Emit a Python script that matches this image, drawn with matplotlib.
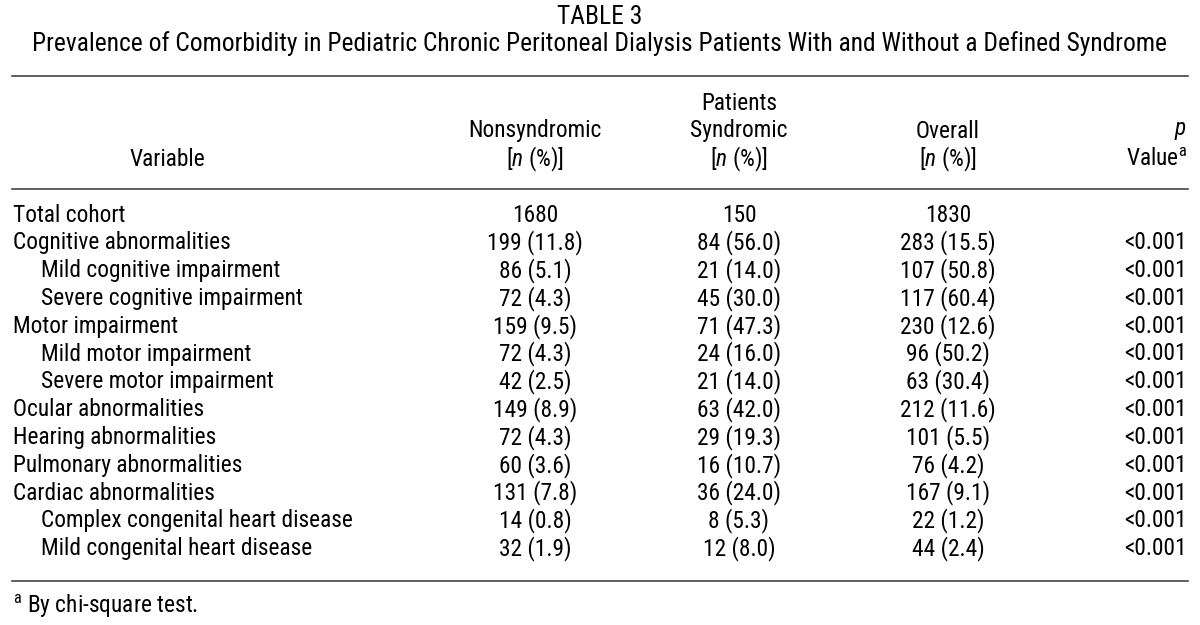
import matplotlib
matplotlib.use("Agg")
import matplotlib.pyplot as plt
from matplotlib import font_manager as fm

# pick a narrow sans if one is installed, otherwise fall back
names = {f.name for f in fm.fontManager.ttflist}
stretchy = {(f.name, str(f.stretch)) for f in fm.fontManager.ttflist}
FONT = "DejaVu Sans"
STRETCH = "normal"
for cand in ["Roboto Condensed", "Open Sans Condensed", "Noto Sans Condensed",
             "DejaVu Sans Condensed", "Liberation Sans Narrow"]:
    if cand in names:
        FONT = cand
        break
else:
    for cand in ["Roboto", "Noto Sans", "Open Sans", "DejaVu Sans"]:
        if (cand, "condensed") in stretchy or (cand, "75") in stretchy:
            FONT, STRETCH = cand, "condensed"
            break

plt.rcParams['font.family'] = [FONT, 'DejaVu Sans']
plt.rcParams['font.stretch'] = STRETCH
plt.rcParams['mathtext.fontset'] = 'custom'
plt.rcParams['mathtext.rm'] = FONT
plt.rcParams['mathtext.it'] = FONT + ':italic'

table_no = "TABLE 3"
title = "Prevalence of Comorbidity in Pediatric Chronic Peritoneal Dialysis Patients With and Without a Defined Syndrome"

variables = ["Total cohort", "Cognitive abnormalities", "Mild cognitive impairment",
             "Severe cognitive impairment", "Motor impairment", "Mild motor impairment",
             "Severe motor impairment", "Ocular abnormalities", "Hearing abnormalities",
             "Pulmonary abnormalities", "Cardiac abnormalities",
             "Complex congenital heart disease", "Mild congenital heart disease"]
indented = [False, False, True, True, False, True, True, False, False, False, False, True, True]
nonsyndromic = ["1680", "199 (11.8)", "86 (5.1)", "72 (4.3)", "159 (9.5)", "72 (4.3)",
                "42 (2.5)", "149 (8.9)", "72 (4.3)", "60 (3.6)", "131 (7.8)", "14 (0.8)", "32 (1.9)"]
syndromic = ["150", "84 (56.0)", "21 (14.0)", "45 (30.0)", "71 (47.3)", "24 (16.0)",
             "21 (14.0)", "63 (42.0)", "29 (19.3)", "16 (10.7)", "36 (24.0)", "8 (5.3)", "12 (8.0)"]
overall = ["1830", "283 (15.5)", "107 (50.8)", "117 (60.4)", "230 (12.6)", "96 (50.2)",
           "63 (30.4)", "212 (11.6)", "101 (5.5)", "76 (4.2)", "167 (9.1)", "22 (1.2)", "44 (2.4)"]
p_values = [""] + ["<0.001"] * 12
footnote = "By chi-square test."

fig = plt.figure(figsize=(12, 6.25), dpi=100)
ax = fig.add_axes([0, 0, 1, 1])
ax.set_xlim(0, 1200)
ax.set_ylim(625, 0)
ax.axis("off")

# body size: "Cognitive abnormalities" is ~218 px wide in the reference
probe = ax.text(0, 0, "Cognitive abnormalities", fontsize=15)
rend = fig.canvas.get_renderer()
fs = 15 * 218 / probe.get_window_extent(renderer=rend).width
probe.remove()

# title sized to span the same width as in the reference
t = ax.text(600, 44, title, ha="center", va="center", fontsize=fs)
w = t.get_window_extent(renderer=rend).width
tfs = fs * 1135 / w
t.set_fontsize(tfs)
ax.text(600, 17, table_no, ha="center", va="center", fontsize=tfs)

col_x = {"non": 535, "syn": 739, "ovr": 948}
x_left, x_right = 12, 1188

for y in (76, 189, 581):
    ax.plot([x_left, x_right], [y, y], color="#333333", lw=1.1)

# header
ax.text(167, 159, "Variable", ha="center", va="center", fontsize=fs)
ax.text(col_x["syn"], 103, "Patients", ha="center", va="center", fontsize=fs)
for key, name in (("non", "Nonsyndromic"), ("syn", "Syndromic"), ("ovr", "Overall")):
    ax.text(col_x[key], 131, name, ha="center", va="center", fontsize=fs)
    ax.text(col_x[key], 159, r"[$\it{n}$ (%)]", ha="center", va="center", fontsize=fs)
ax.text(1187, 131, r"$\it{p}$", ha="right", va="center", fontsize=fs)
ax.text(1187, 159, r"Value$^{\rm a}$", ha="right", va="center", fontsize=fs)

row0, step = 215, 27.8
for i, name in enumerate(variables):
    y = row0 + i * step
    ax.text(41 if indented[i] else 13, y, name, ha="left", va="center", fontsize=fs)
    ax.text(col_x["non"], y, nonsyndromic[i], ha="center", va="center", fontsize=fs)
    ax.text(col_x["syn"], y, syndromic[i], ha="center", va="center", fontsize=fs)
    ax.text(col_x["ovr"], y, overall[i], ha="center", va="center", fontsize=fs)
    ax.text(1187, y, p_values[i], ha="right", va="center", fontsize=fs)

ax.text(13, 606, r"$^{\rm a}$ " + footnote, ha="left", va="center", fontsize=fs)

fig.savefig("out.png", dpi=100)
